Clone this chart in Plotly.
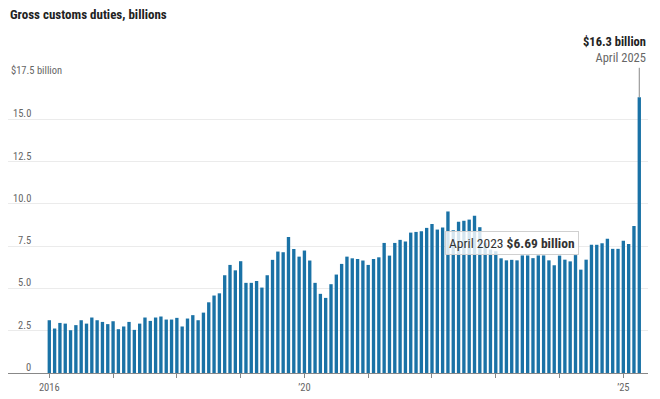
import plotly.graph_objects as go

title = "Gross customs duties, billions"
duties = [
    3.12, 2.63, 2.96, 2.92, 2.53, 2.83, 3.12, 2.92, 3.28, 3.12, 3.02, 2.89,   # 2016
    3.06, 2.59, 2.75, 3.02, 2.55, 2.92, 3.28, 3.08, 3.28, 3.34, 3.16, 3.16,   # 2017
    3.26, 2.75, 3.22, 3.42, 3.12, 3.57, 4.18, 4.58, 4.71, 5.78, 6.39, 6.07,   # 2018
    6.61, 5.33, 5.33, 5.44, 5.05, 5.78, 6.69, 7.18, 7.14, 8.04, 7.33, 6.88,   # 2019
    7.24, 6.65, 5.33, 4.68, 4.44, 5.25, 5.82, 6.45, 6.88, 6.78, 6.74, 6.65,   # 2020
    6.39, 6.74, 6.84, 7.69, 6.94, 7.69, 7.87, 7.77, 8.30, 8.34, 8.38, 8.58,   # 2021
    8.81, 8.48, 8.60, 9.55, 8.44, 8.94, 9.00, 9.07, 9.29, 8.62, 7.70, 7.30,   # 2022
    7.20, 6.78, 6.66, 6.69, 6.66, 6.95, 6.95, 6.79, 6.95, 6.95, 6.66, 6.37,   # 2023
    6.94, 6.70, 6.60, 6.97, 6.11, 6.70, 7.58, 7.58, 7.67, 7.94, 7.34, 7.34,   # 2024
    7.82, 7.62, 8.69, 16.30,                                                 # 2025
]
month_index = list(range(len(duties)))
year_tick_index = [0, 12, 24, 36, 48, 60, 72, 84, 96, 108]
year_tick_text = ["2016", "", "", "", "\u201920", "", "", "", "", "\u201925"]
y_ticks = [0, 2.5, 5.0, 7.5, 10.0, 12.5, 15.0, 17.5]
y_tick_text = ["0", "2.5", "5.0", "7.5", "10.0", "12.5", "15.0", "$17.5 billion"]

hover_idx = 87            # April 2023
hover_label = "April 2023"
last_label = "April 2025"

FONT = "Liberation Sans Narrow, Roboto Condensed, Arial Narrow, Roboto, sans-serif"
BAR = "#1a72a6"

fig = go.Figure(go.Bar(
    x=month_index, y=duties,
    marker=dict(color=BAR, line=dict(width=0)),
))

annotations = []
for v, t in zip(y_ticks, y_tick_text):
    if v == 17.5:
        annotations.append(dict(x=0, xref="paper", xanchor="left", xshift=1,
                                y=v, yref="y", yanchor="bottom", yshift=-2, text=t, showarrow=False,
                                font=dict(family=FONT, size=10.5, color="#666")))
    else:
        annotations.append(dict(x=0, xref="paper", xanchor="right", xshift=25,
                                y=v, yref="y", yanchor="bottom", yshift=-3, text=t, showarrow=False,
                                font=dict(family=FONT, size=10.5, color="#666")))

# title
annotations.append(dict(x=0, xref="paper", xshift=0, xanchor="left", y=1, yref="paper",
                        yanchor="bottom", yshift=53, text="<b>" + title + "</b>", showarrow=False,
                        font=dict(family=FONT, size=13, color="#222")))

# last bar callout
last_i = month_index[-1]
last_v = duties[-1]
annotations.append(dict(x=last_i, y=last_v, xref="x", yref="y", text="", ax=0, ay=-31,
                        showarrow=True, arrowhead=0, arrowwidth=1, arrowcolor="#888"))
annotations.append(dict(x=1, xref="paper", xanchor="right", xshift=0, y=1, yref="paper",
                        yanchor="bottom", yshift=10,
                        text="<b>$%.1f billion</b><br><span style='color:#666'>%s</span>" % (last_v, last_label),
                        showarrow=False, align="right",
                        font=dict(family=FONT, size=12.5, color="#222")))

# hover-style tooltip
annotations.append(dict(x=hover_idx, y=duties[hover_idx], xref="x", yref="y", xanchor="center",
                        yanchor="bottom", yshift=5,
                        text="%s <b>$%.2f billion</b>" % (hover_label, duties[hover_idx]),
                        showarrow=False, bgcolor="rgba(255,255,255,0.82)", bordercolor="#d0d0d0",
                        borderwidth=1, borderpad=3,
                        font=dict(family=FONT, size=13.5, color="#333")))

# page body adds an 8px margin, so the figure is 8px smaller than the window
fig.update_layout(
    width=652, height=391,
    margin=dict(l=0, r=12, t=69, b=25.5),
    paper_bgcolor="white", plot_bgcolor="white",
    bargap=0.37, showlegend=False,
    annotations=annotations,
    font=dict(family=FONT),
)
fig.update_xaxes(range=[-7.77, 112.64], tickmode="array", tickvals=year_tick_index,
                 ticktext=year_tick_text, ticks="outside", ticklen=4, tickcolor="#888",
                 showline=True, linecolor="#888", linewidth=1, showgrid=False, zeroline=False,
                 tickfont=dict(family=FONT, size=10.5, color="#666"))
fig.update_yaxes(range=[0, 17.5], tickvals=y_ticks, showticklabels=False, showgrid=True,
                 gridcolor="#ebebeb", gridwidth=1, zeroline=False, showline=False)

fig.write_html("out.html")
